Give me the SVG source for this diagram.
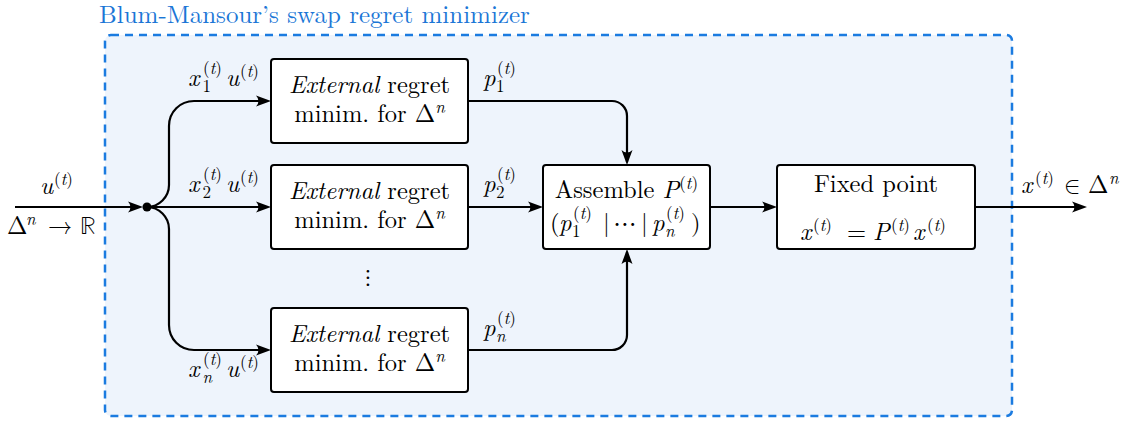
<svg xmlns="http://www.w3.org/2000/svg" width="1129" height="422" viewBox="0 0 1129 422" font-family="'Latin Modern Roman', 'Latin Modern Math', 'Liberation Serif', 'DejaVu Serif', serif">
  <style>
    .t { font-size: 24.5px; fill: #000; }
    .s { font-size: 17px; }
    .i { font-style: italic; }
    .c { text-anchor: middle; }
    .box { fill: #fff; stroke: #000; stroke-width: 2; }
    .wire { fill: none; stroke: #000; stroke-width: 2.2; }
    .title { font-size: 25px; fill: #1b76d6; }
  </style>
  <defs>
    <marker id="arr" viewBox="-16 -6 19 12" refX="-3" refY="0" markerWidth="19" markerHeight="12" markerUnits="userSpaceOnUse" orient="auto">
      <path d="M0,0 L-15,-5.5 Q-10,0 -15,5.5 Z" fill="#000"/>
    </marker>
  </defs>

  <!-- enclosing minimizer frame -->
  <g id="frame">
    <rect x="105" y="35" width="907" height="381" rx="6" fill="#eef4fc" stroke="#1b7be0" stroke-width="2.5" stroke-dasharray="8 6"/>
    <text class="title" x="99" y="23">Blum-Mansour’s swap regret minimizer</text>
  </g>

  <!-- connectors -->
  <g id="connectors">
    <path class="wire" d="M15,207 L140,207" marker-end="url(#arr)"/>
    <path class="wire" d="M147,207 L268,207" marker-end="url(#arr)"/>
    <path class="wire" d="M147,207 C159,207 169,197 169,185 L169,126 C169,112 180,101 194,101 L268,101" marker-end="url(#arr)"/>
    <path class="wire" d="M147,207 C159,207 169,217 169,229 L169,325 C169,339 180,350 194,350 L268,350" marker-end="url(#arr)"/>
    <path class="wire" d="M468,101 L612,101 C620.3,101 627,107.7 627,116 L627,162" marker-end="url(#arr)"/>
    <path class="wire" d="M468,207 L540,207" marker-end="url(#arr)"/>
    <path class="wire" d="M468,350 L612,350 C620.3,350 627,343.3 627,335 L627,252" marker-end="url(#arr)"/>
    <path class="wire" d="M710,207 L774,207" marker-end="url(#arr)"/>
    <path class="wire" d="M975,207 L1084,207" marker-end="url(#arr)"/>
    <circle cx="147" cy="207" r="4.5" fill="#000"/>
  </g>

  <!-- input label: utility u^(t) : Δ^n → ℝ -->
  <g id="input-label">
    <text class="t" x="40" y="194"><tspan class="i">u</tspan><tspan class="s" x="54" y="185">(<tspan class="i">t</tspan>)</tspan></text>
    <text class="t" x="7" y="234">Δ<tspan class="s i" x="26" y="225">n</tspan><tspan x="48" y="234">→</tspan><tspan x="80" y="234">ℝ</tspan></text>
  </g>

  <!-- edge labels on the three branches -->
  <g id="branch-labels">
    <text class="t" x="188" y="86"><tspan class="i">x</tspan><tspan class="s" x="202.5" y="92">1</tspan><tspan class="s" x="203" y="74">(<tspan class="i">t</tspan>)</tspan><tspan class="i" x="226" y="86">u</tspan><tspan class="s" x="240" y="77">(<tspan class="i">t</tspan>)</tspan></text>
    <text class="t" x="188" y="192"><tspan class="i">x</tspan><tspan class="s" x="202.5" y="198">2</tspan><tspan class="s" x="203" y="180">(<tspan class="i">t</tspan>)</tspan><tspan class="i" x="226" y="192">u</tspan><tspan class="s" x="240" y="183">(<tspan class="i">t</tspan>)</tspan></text>
    <text class="t" x="188" y="377"><tspan class="i">x</tspan><tspan class="s i" x="202.5" y="383">n</tspan><tspan class="s" x="203" y="365">(<tspan class="i">t</tspan>)</tspan><tspan class="i" x="226" y="377">u</tspan><tspan class="s" x="240" y="368">(<tspan class="i">t</tspan>)</tspan></text>

    <text class="t" x="483" y="86"><tspan class="i">p</tspan><tspan class="s" x="496" y="92">1</tspan><tspan class="s" x="497" y="74">(<tspan class="i">t</tspan>)</tspan></text>
    <text class="t" x="483" y="192"><tspan class="i">p</tspan><tspan class="s" x="496" y="198">2</tspan><tspan class="s" x="497" y="180">(<tspan class="i">t</tspan>)</tspan></text>
    <text class="t" x="483" y="336"><tspan class="i">p</tspan><tspan class="s i" x="496" y="342">n</tspan><tspan class="s" x="497" y="324">(<tspan class="i">t</tspan>)</tspan></text>

    <text class="t c" x="368" y="284">⋮</text>
  </g>

  <!-- external regret minimizers -->
  <g id="erm-1">
    <rect class="box" x="271" y="59" width="197" height="84" rx="3"/>
    <text class="t c" x="369.5" y="93"><tspan class="i">External</tspan> regret</text>
    <text class="t c" x="369.5" y="122">minim. for Δ<tspan class="s i" dy="-9">n</tspan></text>
  </g>
  <g id="erm-2">
    <rect class="box" x="271" y="165" width="197" height="84" rx="3"/>
    <text class="t c" x="369.5" y="199"><tspan class="i">External</tspan> regret</text>
    <text class="t c" x="369.5" y="228">minim. for Δ<tspan class="s i" dy="-9">n</tspan></text>
  </g>
  <g id="erm-n">
    <rect class="box" x="271" y="308" width="197" height="84" rx="3"/>
    <text class="t c" x="369.5" y="342"><tspan class="i">External</tspan> regret</text>
    <text class="t c" x="369.5" y="371">minim. for Δ<tspan class="s i" dy="-9">n</tspan></text>
  </g>

  <!-- assemble the strategy matrix -->
  <g id="assemble">
    <rect class="box" x="543" y="165" width="167" height="84" rx="3"/>
    <text class="t c" x="626.5" y="198">Assemble <tspan class="i">P</tspan><tspan class="s" dy="-9">(<tspan class="i">t</tspan>)</tspan></text>
    <text class="t" x="550" y="231">(<tspan class="i" x="559" y="231">p</tspan><tspan class="s" x="572" y="237">1</tspan><tspan class="s" x="573" y="219">(<tspan class="i">t</tspan>)</tspan><tspan x="603" y="231">|</tspan><tspan x="614" y="231" font-size="28">⋯</tspan><tspan x="641" y="231">|</tspan><tspan class="i" x="652" y="231">p</tspan><tspan class="s i" x="665" y="237">n</tspan><tspan class="s" x="666" y="219">(<tspan class="i">t</tspan>)</tspan><tspan x="691" y="231">)</tspan></text>
  </g>

  <!-- fixed point computation -->
  <g id="fixed-point">
    <rect class="box" x="777" y="165" width="198" height="84" rx="3"/>
    <text class="t c" x="876" y="192">Fixed point</text>
    <text class="t" x="800" y="240"><tspan class="i">x</tspan><tspan class="s" x="813" y="231">(<tspan class="i">t</tspan>)</tspan><tspan x="847" y="240">=</tspan><tspan class="i" x="873" y="240">P</tspan><tspan class="s" x="891" y="231">(<tspan class="i">t</tspan>)</tspan><tspan class="i" x="913" y="240">x</tspan><tspan class="s" x="927" y="231">(<tspan class="i">t</tspan>)</tspan></text>
  </g>

  <!-- output label -->
  <g id="output-label">
    <text class="t" x="1021" y="193"><tspan class="i">x</tspan><tspan class="s" x="1035" y="184">(<tspan class="i">t</tspan>)</tspan><tspan x="1064" y="193">∈</tspan><tspan x="1088" y="193">Δ</tspan><tspan class="s i" x="1109" y="184">n</tspan></text>
  </g>
</svg>
